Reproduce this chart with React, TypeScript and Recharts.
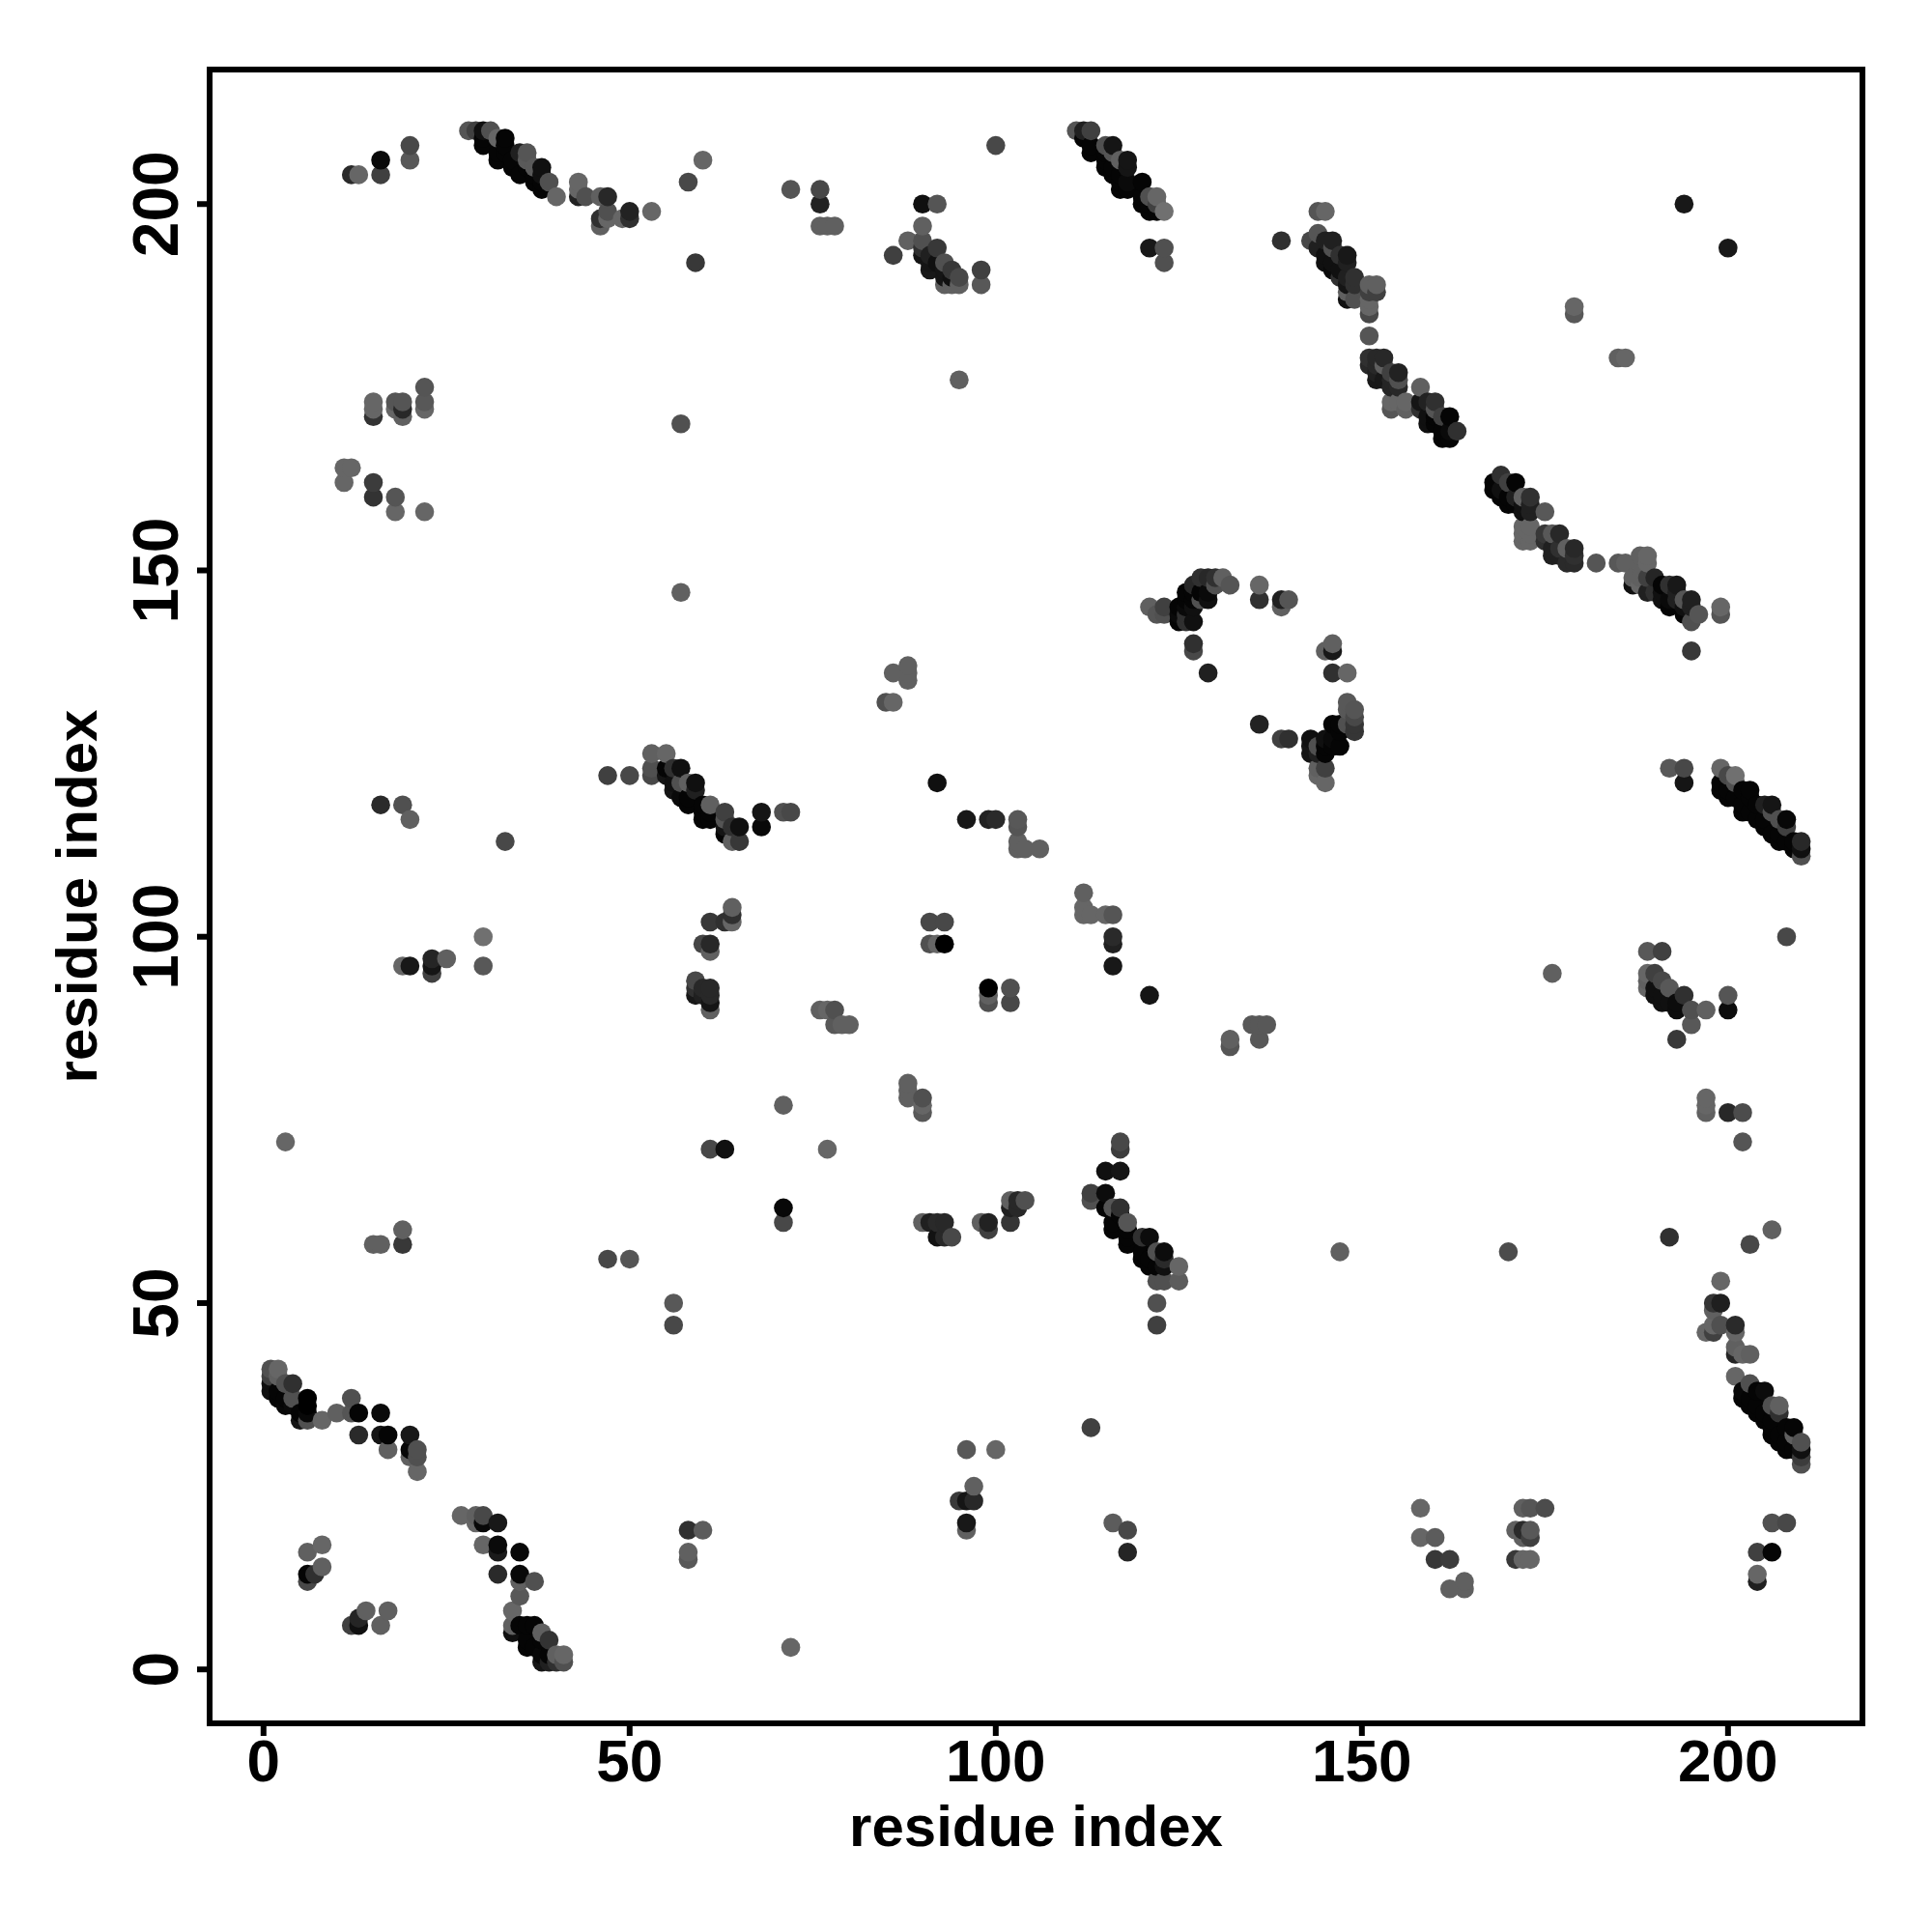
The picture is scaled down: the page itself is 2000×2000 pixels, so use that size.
import { Label, ReferenceArea, Scatter, ScatterChart, XAxis, YAxis } from 'recharts';

// each contact is [residue i, residue j, grey level 0-112 as read from the dot]
const topLeft = [
  [12, 204, 42], [13, 204, 102], [16, 204, 64], [16, 206, 10], [20, 206, 88], [20, 208, 72],
  [28, 210, 85], [29, 210, 64], [30, 208, 5], [30, 209, 5], [30, 210, 16], [31, 210, 80],
  [32, 206, 5], [32, 207, 5], [32, 209, 102], [33, 207, 5], [33, 208, 5], [33, 209, 5],
  [34, 205, 5], [34, 206, 5], [35, 204, 5], [35, 207, 32], [36, 205, 5], [36, 206, 90],
  [36, 207, 85], [37, 203, 5], [37, 204, 5], [37, 205, 90], [38, 202, 5], [38, 203, 5], [38, 204, 16],
  [38, 205, 16], [39, 203, 80], [40, 201, 102], [43, 201, 34], [43, 202, 102], [43, 203, 102],
  [44, 201, 80], [46, 197, 96], [46, 198, 48], [46, 201, 96], [47, 198, 102], [47, 199, 80],
  [47, 201, 40], [49, 198, 102], [50, 198, 48], [50, 199, 34], [53, 199, 102], [58, 203, 72],
  [59, 192, 56], [60, 206, 102], [72, 202, 85], [76, 197, 96], [76, 200, 34], [76, 202, 72],
  [77, 197, 96], [78, 197, 96],
];

const topMiddle = [
  [86, 193, 64], [88, 195, 96], [90, 193, 21], [90, 194, 48], [90, 195, 80], [90, 197, 96],
  [90, 200, 16], [91, 191, 24], [91, 192, 21], [91, 193, 32], [92, 192, 16], [92, 194, 56], [92, 200, 85],
  [93, 189, 96], [93, 190, 21], [93, 191, 21], [93, 192, 80], [94, 189, 96], [94, 190, 16], [94, 191, 56],
  [95, 189, 96], [95, 190, 72], [98, 189, 88], [98, 191, 64], [95, 176, 96], [100, 208, 72],
  [111, 210, 85], [112, 209, 5], [112, 210, 32], [113, 207, 5], [113, 208, 5], [113, 210, 64],
  [115, 205, 5], [115, 206, 5], [115, 207, 5], [115, 208, 80], [116, 204, 5], [116, 205, 5], [116, 207, 85],
  [116, 208, 21], [117, 202, 5], [117, 203, 5], [117, 204, 5], [117, 206, 96], [118, 202, 5], [118, 203, 10],
  [118, 205, 21], [118, 206, 21], [120, 200, 5], [120, 201, 5], [120, 203, 5], [121, 199, 5], [121, 200, 5],
  [121, 201, 80], [122, 199, 5], [122, 200, 64], [122, 201, 102], [123, 199, 112], [121, 194, 24],
  [123, 192, 80], [123, 194, 80],
];

const topRight = [
  [139, 195, 48], [143, 195, 72], [144, 194, 32], [144, 196, 85], [144, 199, 85], [145, 192, 16],
  [145, 193, 16], [145, 195, 32], [145, 199, 102], [146, 191, 10], [146, 192, 16], [146, 194, 80],
  [146, 195, 32], [147, 190, 48], [147, 191, 16], [147, 193, 48], [148, 187, 16], [148, 188, 96],
  [148, 189, 21], [148, 190, 32], [148, 192, 32], [148, 193, 24], [149, 187, 80], [149, 189, 48],
  [149, 190, 48], [151, 185, 72], [151, 186, 102], [151, 187, 102], [151, 188, 64], [151, 189, 96],
  [152, 188, 64], [152, 189, 96], [151, 182, 85], [151, 178, 40], [151, 179, 48], [152, 176, 24],
  [152, 177, 32], [152, 178, 40], [152, 179, 40], [153, 176, 24], [153, 178, 96], [153, 179, 40],
  [154, 172, 85], [154, 173, 102], [154, 175, 37], [154, 176, 37], [154, 177, 64], [155, 173, 102],
  [155, 175, 40], [155, 176, 80], [155, 177, 34], [156, 172, 96], [156, 173, 102], [158, 172, 48],
  [158, 173, 21], [158, 175, 96], [159, 170, 16], [159, 171, 16], [159, 173, 34], [160, 170, 5],
  [160, 171, 5], [160, 172, 85], [160, 173, 48], [161, 168, 5], [161, 169, 5], [161, 171, 64],
  [162, 168, 5], [162, 169, 10], [162, 171, 5], [163, 169, 48], [194, 200, 24], [200, 194, 24],
  [179, 185, 88], [179, 186, 102], [185, 179, 96], [186, 179, 102],
];

const upperLeft = [
  [11, 162, 102], [11, 164, 102], [12, 164, 102], [15, 160, 51], [15, 162, 60], [15, 171, 51],
  [15, 172, 102], [15, 173, 102], [18, 158, 102], [18, 160, 85], [18, 172, 102], [18, 173, 85],
  [19, 171, 96], [19, 172, 40], [19, 173, 85], [22, 158, 102], [22, 172, 102], [22, 173, 88],
  [22, 175, 85], [57, 147, 96], [57, 170, 80],
];

const middleBand = [
  [168, 161, 5], [168, 162, 5], [169, 160, 5], [169, 161, 16], [169, 163, 48], [170, 159, 5], [170, 160, 5],
  [170, 162, 64], [171, 159, 5], [171, 160, 32], [171, 162, 5], [172, 155, 102], [172, 154, 102],
  [172, 156, 102], [172, 158, 16], [172, 159, 16], [172, 160, 96], [173, 154, 102], [173, 155, 102],
  [173, 156, 102], [173, 158, 32], [173, 159, 32], [173, 160, 48], [175, 154, 48], [175, 155, 56],
  [175, 158, 88], [176, 152, 32], [176, 153, 32], [176, 155, 88], [177, 152, 32], [177, 153, 48],
  [177, 155, 40], [178, 151, 42], [178, 153, 96], [179, 151, 42], [179, 152, 48], [179, 153, 40],
  [182, 151, 85], [185, 151, 88], [186, 151, 96], [187, 148, 16], [187, 149, 96], [188, 148, 102],
  [188, 149, 96], [188, 151, 96], [188, 152, 96], [189, 147, 32], [189, 149, 64], [189, 151, 102],
  [189, 152, 102], [190, 147, 48], [190, 149, 37], [191, 146, 16], [191, 147, 16], [191, 148, 5],
  [192, 145, 5], [192, 146, 10], [192, 148, 48], [193, 146, 32], [193, 147, 32], [193, 148, 24],
  [194, 144, 5], [194, 145, 16], [194, 146, 85], [195, 143, 80], [195, 145, 32], [195, 146, 32],
  [196, 144, 85], [199, 144, 85], [199, 145, 102],
];

const arc = [
  [121, 145, 96], [122, 144, 85], [123, 144, 80], [123, 145, 64], [125, 143, 5], [125, 144, 10], [125, 145, 5],
  [126, 143, 48], [126, 144, 48], [126, 145, 10], [126, 146, 5], [126, 147, 5], [127, 143, 16], [127, 145, 16],
  [127, 146, 5], [127, 147, 5], [127, 148, 40], [127, 139, 72], [127, 140, 48], [128, 146, 80], [128, 147, 5],
  [128, 149, 48], [129, 136, 32], [129, 146, 16], [129, 147, 10], [129, 149, 40], [130, 148, 80], [130, 149, 48],
  [131, 149, 96], [132, 148, 85], [136, 146, 48], [136, 148, 102], [139, 145, 96], [139, 146, 32], [140, 146, 85],
  [145, 139, 96], [146, 136, 48], [146, 139, 24], [146, 140, 96], [148, 136, 102],
  [136, 129, 34], [139, 127, 64], [140, 127, 48], [143, 125, 21], [143, 126, 21], [143, 127, 16],
  [144, 122, 102], [144, 123, 96], [144, 125, 32], [144, 126, 80], [145, 121, 102], [145, 123, 64],
  [145, 125, 5], [145, 126, 5], [145, 127, 16], [146, 126, 5], [146, 127, 10], [146, 129, 5], [147, 126, 5],
  [147, 128, 5], [147, 129, 5], [148, 129, 80], [148, 131, 88], [148, 132, 88], [149, 128, 53], [149, 129, 53],
  [149, 130, 72], [149, 131, 85],
];

const centerBand = [
  [47, 122, 64], [50, 122, 72], [53, 122, 72], [53, 123, 80], [53, 125, 96], [55, 122, 21], [55, 123, 5],
  [55, 125, 102], [56, 120, 21], [56, 121, 16], [56, 123, 48], [57, 119, 10], [57, 121, 80], [57, 123, 16],
  [58, 118, 5], [58, 119, 5], [58, 121, 96], [59, 120, 32], [59, 121, 16], [60, 116, 5], [60, 117, 5], [60, 118, 5],
  [61, 116, 5], [61, 117, 5], [61, 118, 96], [63, 114, 5], [63, 115, 21], [63, 116, 85], [63, 117, 64],
  [64, 113, 96], [64, 115, 48], [65, 113, 56], [65, 115, 16], [68, 115, 8], [68, 117, 21], [71, 117, 80], [72, 117, 72],
  [16, 118, 42], [19, 118, 80], [20, 116, 96], [33, 113, 72], [92, 121, 16], [96, 116, 24], [99, 116, 34],
  [100, 116, 42], [103, 112, 96], [103, 113, 96], [103, 115, 85], [103, 116, 88], [104, 112, 96], [106, 112, 96],
  [85, 132, 80], [86, 132, 102], [86, 136, 96], [88, 135, 96], [88, 136, 96], [88, 137, 96],
];

const rightBand = [
  [192, 123, 88], [194, 121, 21], [194, 123, 72], [195, 139, 56], [199, 120, 5], [199, 121, 5], [199, 123, 102],
  [200, 119, 5], [200, 120, 5], [200, 122, 72], [201, 119, 5], [201, 121, 80], [201, 122, 112], [202, 117, 5],
  [202, 118, 5], [202, 120, 5], [203, 117, 5], [203, 119, 5], [203, 120, 5], [204, 116, 5], [204, 118, 5],
  [205, 115, 5], [205, 116, 5], [205, 118, 32], [206, 114, 5], [206, 117, 80], [206, 118, 21], [207, 113, 5],
  [207, 114, 5], [207, 116, 80], [208, 113, 5], [208, 115, 64], [208, 116, 8], [209, 112, 5], [209, 113, 5],
  [210, 111, 80], [210, 112, 16], [210, 113, 40],
];

const midLeft = [
  [3, 72, 102], [19, 96, 102], [20, 96, 24], [23, 95, 64], [23, 96, 21], [23, 97, 37], [25, 97, 96],
  [30, 96, 88], [30, 100, 112], [59, 92, 24], [59, 93, 48], [59, 94, 72], [60, 92, 32], [60, 93, 40],
  [60, 99, 69], [61, 90, 96], [61, 91, 21], [61, 92, 40], [61, 93, 40], [61, 98, 96], [61, 99, 40],
  [61, 102, 56], [63, 102, 48], [64, 102, 102], [64, 103, 48], [64, 104, 96], [61, 71, 72], [63, 71, 16],
  [71, 77, 96], [76, 90, 96], [77, 71, 102], [77, 90, 102], [78, 88, 88], [78, 90, 80], [79, 88, 96], [80, 88, 96],
  [88, 78, 96], [88, 79, 96], [88, 80, 96], [90, 76, 88], [90, 77, 102], [90, 78, 80], [91, 99, 80],
  [91, 102, 72], [92, 99, 102], [93, 99, 0], [93, 102, 72], [99, 91, 80], [99, 92, 96], [99, 93, 0],
  [102, 91, 72], [102, 93, 80],
];

const midRight = [
  [112, 103, 102], [112, 104, 102], [112, 106, 96], [113, 103, 102], [115, 103, 102], [116, 96, 24],
  [116, 99, 32], [116, 100, 42], [116, 103, 85], [121, 92, 21], [132, 85, 85], [132, 86, 96], [135, 88, 88],
  [136, 86, 88], [136, 88, 88], [137, 88, 88], [117, 71, 60], [117, 72, 72], [176, 95, 96], [208, 100, 72],
  [189, 93, 102], [189, 94, 96], [189, 95, 102], [189, 98, 88], [190, 92, 16], [190, 93, 16], [190, 95, 64],
  [191, 91, 16], [191, 92, 16], [191, 94, 72], [191, 98, 64], [192, 91, 16], [192, 93, 88], [193, 90, 12],
  [193, 91, 12], [193, 86, 56], [194, 92, 48], [195, 88, 88], [195, 90, 80], [197, 76, 96], [197, 77, 102],
  [197, 78, 102], [197, 90, 96], [200, 76, 40], [200, 90, 12], [200, 92, 85], [202, 72, 85], [202, 76, 76],
];

const lowerLeft = [
  [1, 38, 16], [1, 39, 16], [1, 40, 64], [1, 41, 80], [2, 37, 5], [2, 38, 5], [2, 40, 96], [2, 41, 102], [3, 36, 8],
  [3, 37, 5], [3, 39, 80], [4, 36, 10], [4, 37, 80], [4, 39, 48], [5, 34, 21], [5, 35, 5], [6, 34, 80], [6, 35, 8],
  [6, 36, 0], [6, 37, 0], [8, 34, 102], [10, 35, 96], [12, 35, 85], [12, 37, 80], [13, 32, 42], [13, 35, 5],
  [16, 32, 21], [16, 35, 10], [17, 30, 96], [17, 32, 5], [20, 29, 96], [20, 30, 8], [20, 32, 24], [21, 27, 102],
  [21, 29, 80], [21, 30, 80], [6, 12, 72], [6, 13, 5], [6, 16, 96], [7, 13, 48], [8, 14, 96], [8, 17, 102],
  [12, 6, 64], [13, 6, 16], [13, 7, 37], [14, 8, 96], [16, 6, 96], [17, 8, 96], [15, 58, 96], [16, 58, 96],
  [19, 58, 56], [19, 60, 96], [47, 56, 72], [50, 56, 85],
  [27, 21, 102], [29, 20, 102], [29, 21, 96], [30, 17, 102], [30, 20, 8], [30, 21, 72], [32, 13, 42], [32, 16, 26],
  [32, 17, 10], [32, 20, 24], [34, 5, 16], [34, 6, 96], [34, 8, 102], [35, 6, 5], [35, 10, 88], [35, 12, 96],
  [35, 13, 8], [35, 16, 8], [36, 3, 5], [36, 4, 5], [36, 6, 5], [37, 3, 5], [37, 6, 5], [37, 12, 80], [38, 1, 21],
  [38, 2, 8], [38, 4, 5], [38, 5, 96], [39, 1, 32], [39, 2, 5], [39, 4, 51], [40, 1, 48], [40, 2, 96], [41, 1, 80],
  [41, 2, 102], [56, 47, 72], [56, 50, 88], [58, 15, 88], [58, 16, 96], [58, 19, 48], [60, 19, 92], [71, 61, 72],
  [71, 63, 8], [72, 3, 102],
];

const lowerMiddle = [
  [90, 61, 96], [91, 61, 32], [92, 59, 18], [92, 61, 42], [93, 59, 40], [93, 61, 40], [94, 59, 72], [95, 23, 58],
  [96, 19, 96], [96, 20, 24], [96, 23, 21], [96, 30, 88], [97, 23, 40], [97, 25, 96], [98, 61, 96], [99, 60, 64],
  [99, 61, 34], [100, 30, 102], [102, 61, 53], [102, 63, 32], [102, 64, 96], [103, 63, 40], [103, 64, 40],
  [104, 64, 80], [113, 33, 64], [113, 64, 80], [113, 65, 64], [115, 63, 5], [115, 65, 12], [115, 68, 16], [116, 20, 92],
  [116, 60, 5], [116, 61, 5], [116, 63, 85], [117, 62, 5], [117, 63, 48], [117, 68, 21], [118, 16, 37], [118, 19, 72],
  [118, 58, 5], [118, 59, 5], [118, 60, 5], [118, 61, 85], [120, 56, 5], [120, 57, 5], [120, 59, 48], [121, 55, 5],
  [121, 56, 5], [121, 59, 12], [122, 47, 64], [122, 50, 80], [122, 53, 80], [122, 55, 5], [122, 57, 80],
  [123, 53, 80], [123, 55, 16], [123, 56, 42], [123, 57, 12], [125, 53, 92], [125, 55, 102],
];

const lowerRight = [
  [147, 57, 96], [158, 18, 102], [158, 22, 102], [160, 15, 56], [160, 18, 92], [162, 11, 96], [162, 15, 60],
  [164, 11, 96], [164, 12, 96], [170, 57, 76], [171, 15, 56], [171, 19, 96], [172, 15, 102], [172, 18, 96],
  [172, 19, 42], [172, 22, 96], [173, 15, 102], [173, 18, 64], [173, 19, 88], [173, 22, 85], [175, 22, 76],
  [192, 59, 48], [197, 46, 102], [198, 46, 64], [198, 47, 102], [198, 49, 96], [198, 50, 53], [199, 47, 80],
  [199, 50, 31], [199, 53, 102], [201, 40, 102], [201, 43, 37], [201, 44, 96], [201, 46, 102], [201, 47, 42],
  [202, 37, 5], [202, 38, 8], [202, 43, 102], [203, 36, 5], [203, 37, 5], [203, 39, 80], [203, 43, 96], [203, 58, 72],
  [204, 12, 32], [204, 13, 102], [204, 16, 64], [204, 35, 5], [204, 36, 5], [204, 38, 5], [205, 34, 5], [205, 35, 5],
  [205, 38, 12], [206, 16, 5], [206, 20, 80], [206, 32, 5], [206, 33, 5], [206, 34, 5], [206, 36, 80], [206, 60, 96],
  [207, 31, 5], [207, 32, 5], [207, 35, 48], [207, 36, 96], [208, 20, 72], [208, 30, 5], [208, 31, 5], [208, 33, 5],
  [209, 30, 5], [209, 32, 96], [209, 33, 5], [210, 28, 80], [210, 29, 60], [210, 30, 16], [210, 31, 80],
];

const xTicks = [0, 50, 100, 150, 200];
const yTicks = [0, 50, 100, 150, 200];
const axisDomain = [-7.36, 218.36];

const contacts = [
  ...topLeft, ...topMiddle, ...topRight, ...upperLeft, ...middleBand, ...arc,
  ...centerBand, ...rightBand, ...midLeft, ...midRight, ...lowerLeft, ...lowerMiddle, ...lowerRight,
]
  .map(([i, j, grey]) => ({ i, j, grey }))
  .sort((a, b) => a.i - b.i || a.j - b.j);

const fontFamily = '"Liberation Sans", Arial, sans-serif';

function Dot(props: any) {
  const g = props.payload.grey;
  return <circle cx={props.cx} cy={props.cy} r={9.8} fill={`rgb(${g},${g},${g})`} />;
}

function YTick({ x, y, payload }: any) {
  return (
    <text
      transform={`translate(${x - 18},${y}) rotate(-90)`}
      textAnchor="middle"
      fontFamily={fontFamily}
      fontWeight="bold"
      fontSize={66}
      fill="#000"
    >
      {payload.value}
    </text>
  );
}

function XTick({ x, y, payload }: any) {
  return (
    <text x={x} y={y + 45} textAnchor="middle" fontFamily={fontFamily} fontWeight="bold" fontSize={62} fill="#000">
      {payload.value}
    </text>
  );
}

function XTitle({ viewBox }: any) {
  return (
    <text
      x={viewBox.x + viewBox.width / 2}
      y={viewBox.y + 127}
      textAnchor="middle"
      fontFamily={fontFamily}
      fontWeight="bold"
      fontSize={60}
      fill="#000"
    >
      residue index
    </text>
  );
}

function YTitle({ viewBox }: any) {
  return (
    <text
      transform={`translate(${viewBox.x + 100},${viewBox.y + viewBox.height / 2}) rotate(-90)`}
      textAnchor="middle"
      fontFamily={fontFamily}
      fontWeight="bold"
      fontSize={60}
      fill="#000"
    >
      residue index
    </text>
  );
}

export default function App() {
  return (
    <div style={{ position: 'absolute', left: 0, top: 0, width: 2000, height: 2000, background: '#fff' }}>
      <ScatterChart width={2000} height={2000} margin={{ top: 72, right: 72, bottom: 0, left: 0 }}>
        <XAxis
          type="number"
          dataKey="i"
          domain={axisDomain}
          ticks={xTicks}
          allowDataOverflow
          height={216}
          axisLine={false}
          tickLine={{ stroke: '#000', strokeWidth: 6 }}
          tickSize={13}
          tick={<XTick />}
        >
          <Label content={<XTitle />} />
        </XAxis>
        <YAxis
          type="number"
          dataKey="j"
          domain={axisDomain}
          ticks={yTicks}
          allowDataOverflow
          width={217}
          axisLine={false}
          tickLine={{ stroke: '#000', strokeWidth: 6 }}
          tickSize={13}
          tick={<YTick />}
        >
          <Label content={<YTitle />} />
        </YAxis>
        <ReferenceArea
          x1={axisDomain[0]}
          x2={axisDomain[1]}
          y1={axisDomain[0]}
          y2={axisDomain[1]}
          fill="none"
          stroke="#000"
          strokeWidth={6}
          fillOpacity={0}
        />
        <Scatter data={contacts} shape={<Dot />} isAnimationActive={false} />
      </ScatterChart>
    </div>
  );
}
